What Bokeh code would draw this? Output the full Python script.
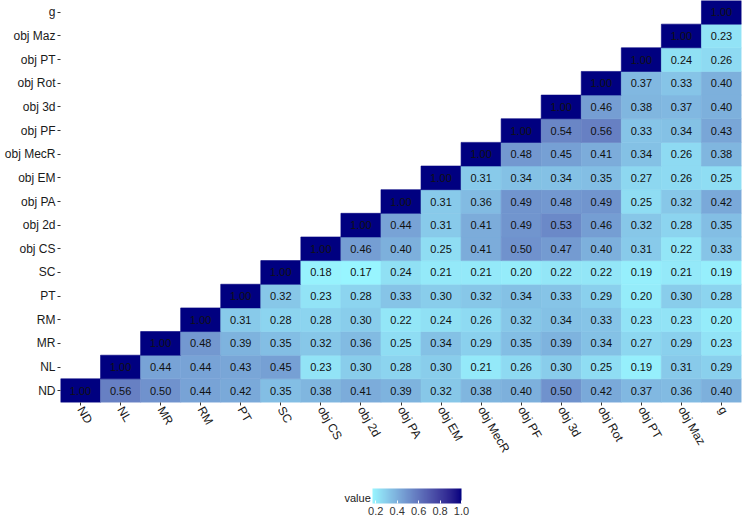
import math
import numpy as np
from bokeh.plotting import figure
from bokeh.layouts import column
from bokeh.models import (ColumnDataSource, LinearColorMapper, ColorBar, FixedTicker,
                          Label, PrintfTickFormatter, Range1d)
from bokeh.embed import file_html
from bokeh.resources import INLINE
from bokeh.core.properties import value

variables = ["ND", "NL", "MR", "RM", "PT", "SC", "obj CS", "obj 2d", "obj PA", "obj EM",
             "obj MecR", "obj PF", "obj 3d", "obj Rot", "obj PT", "obj Maz", "g"]

# each row: correlations of the row variable with itself and every later variable
row_ND = [1.00, 0.56, 0.50, 0.44, 0.42, 0.35, 0.38, 0.41, 0.39, 0.32, 0.38, 0.40, 0.50, 0.42, 0.37, 0.36, 0.40]
row_NL = [1.00, 0.44, 0.44, 0.43, 0.45, 0.23, 0.30, 0.28, 0.30, 0.21, 0.26, 0.30, 0.25, 0.19, 0.31, 0.29]
row_MR = [1.00, 0.48, 0.39, 0.35, 0.32, 0.36, 0.25, 0.34, 0.29, 0.35, 0.39, 0.34, 0.27, 0.29, 0.23]
row_RM = [1.00, 0.31, 0.28, 0.28, 0.30, 0.22, 0.24, 0.26, 0.32, 0.34, 0.33, 0.23, 0.23, 0.20]
row_PT = [1.00, 0.32, 0.23, 0.28, 0.33, 0.30, 0.32, 0.34, 0.33, 0.29, 0.20, 0.30, 0.28]
row_SC = [1.00, 0.18, 0.17, 0.24, 0.21, 0.21, 0.20, 0.22, 0.22, 0.19, 0.21, 0.19]
row_objCS = [1.00, 0.46, 0.40, 0.25, 0.41, 0.50, 0.47, 0.40, 0.31, 0.22, 0.33]
row_obj2d = [1.00, 0.44, 0.31, 0.41, 0.49, 0.53, 0.46, 0.32, 0.28, 0.35]
row_objPA = [1.00, 0.31, 0.36, 0.49, 0.48, 0.49, 0.25, 0.32, 0.42]
row_objEM = [1.00, 0.31, 0.34, 0.34, 0.35, 0.27, 0.26, 0.25]
row_objMecR = [1.00, 0.48, 0.45, 0.41, 0.34, 0.26, 0.38]
row_objPF = [1.00, 0.54, 0.56, 0.33, 0.34, 0.43]
row_obj3d = [1.00, 0.46, 0.38, 0.37, 0.40]
row_objRot = [1.00, 0.37, 0.33, 0.40]
row_objPT = [1.00, 0.24, 0.26]
row_objMaz = [1.00, 0.23]
row_g = [1.00]

rows = [row_ND, row_NL, row_MR, row_RM, row_PT, row_SC, row_objCS, row_obj2d, row_objPA,
        row_objEM, row_objMecR, row_objPF, row_obj3d, row_objRot, row_objPT, row_objMaz, row_g]

legend_ticks = [0.2, 0.4, 0.6, 0.8, 1.0]
legend_title = "value"
low_color = "#98F5FF"
high_color = "#000080"
scale_low, scale_high = 0.17, 1.0

# ---- Lab interpolation (like ggplot's gradient) ----
def _hex2rgb(h):
    h = h.lstrip("#")
    return [int(h[i:i + 2], 16) / 255.0 for i in (0, 2, 4)]

def _lin(c):
    return c / 12.92 if c <= 0.04045 else ((c + 0.055) / 1.055) ** 2.4

def _gam(c):
    c = max(0.0, min(1.0, c))
    return 12.92 * c if c <= 0.0031308 else 1.055 * c ** (1 / 2.4) - 0.055

M = np.array([[0.4124564, 0.3575761, 0.1804375],
              [0.2126729, 0.7151522, 0.0721750],
              [0.0193339, 0.1191920, 0.9503041]])
Minv = np.linalg.inv(M)
WP = M @ np.array([1.0, 1.0, 1.0])

def _f(t):
    d = 6 / 29
    return t ** (1 / 3) if t > d ** 3 else t / (3 * d * d) + 4 / 29

def _finv(t):
    d = 6 / 29
    return t ** 3 if t > d else 3 * d * d * (t - 4 / 29)

def hex2lab(h):
    rgb = np.array([_lin(c) for c in _hex2rgb(h)])
    x, y, z = (M @ rgb) / WP
    fx, fy, fz = _f(x), _f(y), _f(z)
    return np.array([116 * fy - 16, 500 * (fx - fy), 200 * (fy - fz)])

def lab2hex(lab):
    L, a, b = lab
    fy = (L + 16) / 116
    fx = fy + a / 500
    fz = fy - b / 200
    xyz = np.array([_finv(fx), _finv(fy), _finv(fz)]) * WP
    rgb = Minv @ xyz
    return "#%02x%02x%02x" % tuple(int(round(_gam(c) * 255)) for c in rgb)

lab_lo, lab_hi = hex2lab(low_color), hex2lab(high_color)
palette = [lab2hex(lab_lo + (lab_hi - lab_lo) * t) for t in np.linspace(0, 1, 256)]

xs, ys, vals = [], [], []
for i, r in enumerate(rows):
    for k, v in enumerate(r):
        ys.append(variables[i])
        xs.append(variables[i + k])
        vals.append(v)

src = ColumnDataSource(dict(x=xs, y=ys, v=vals, lab=["%.2f" % v for v in vals]))
mapper = LinearColorMapper(palette=palette, low=scale_low, high=scale_high)

FONT = "Liberation Sans"
W = 742
BL, BR = 60, 1
MAIN_H, LEG_H = 470, 47
p = figure(width=W, height=MAIN_H, x_range=variables, y_range=variables,
           output_backend="svg", toolbar_location=None,
           min_border_left=BL, min_border_right=BR, min_border_top=0, min_border_bottom=68)

p.rect(x="x", y="y", width=1, height=1, source=src,
       fill_color={"field": "v", "transform": mapper},
       line_color={"field": "v", "transform": mapper}, line_width=0.6)
p.text(x="x", y="y", text="lab", source=src, text_align="center", text_baseline="middle",
       text_font_size="11px", text_font=value(FONT), text_color="#111111")

p.grid.visible = False
p.outline_line_color = None
for ax in (p.xaxis, p.yaxis):
    ax.axis_line_color = None
    ax.major_tick_line_color = "#333333"
    ax.major_tick_in = 0
    ax.major_tick_out = 3
    ax.minor_tick_line_color = None
    ax.major_label_text_font = FONT
    ax.major_label_text_font_size = "12px"
    ax.major_label_text_color = "#1a1a1a"
    ax.major_label_standoff = 2
p.xaxis.major_label_orientation = -math.pi / 3

# ---- legend strip (its frame lines up with the heatmap frame; pixel-unit ranges) ----
FW = W - BL - BR
leg = figure(width=W, height=LEG_H, x_range=Range1d(0, FW), y_range=Range1d(0, LEG_H),
             output_backend="svg", toolbar_location=None,
             x_axis_type=None, y_axis_type=None, min_border=0)
leg.grid.visible = False
leg.outline_line_color = None

cb = ColorBar(color_mapper=mapper, orientation="horizontal", width=89, height=15,
              ticker=FixedTicker(ticks=legend_ticks),
              formatter=PrintfTickFormatter(format="%.1f"),
              major_label_text_font=FONT, major_label_text_font_size="11px",
              major_label_text_color="#333333",
              major_tick_line_color="white", major_tick_in=3, major_tick_out=0,
              minor_tick_line_color=None, bar_line_color=None,
              padding=0, label_standoff=3, location=(312, 0),
              background_fill_color=None, border_line_color=None, title=None)
leg.add_layout(cb)
leg.add_layout(Label(x=284, y=14, text=legend_title, text_font=FONT, text_font_size="11px",
                     text_color="#1a1a1a", text_baseline="bottom", text_align="left"))

open("out.html", "w").write(file_html(column(p, leg, spacing=0), INLINE))
